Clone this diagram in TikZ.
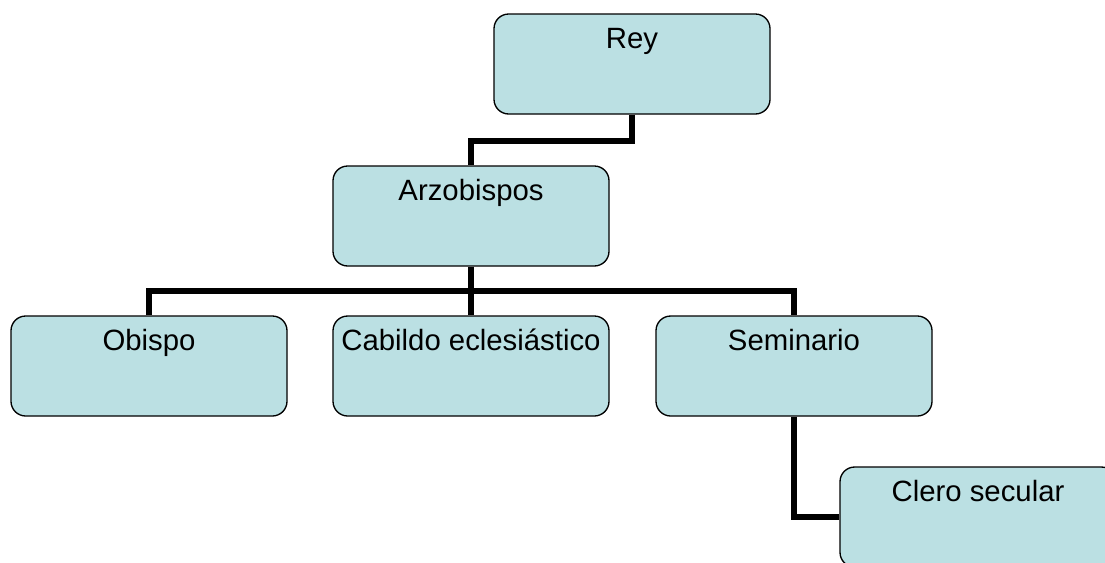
\documentclass[tikz,border=0pt]{standalone}
\usepackage{fontspec}
\setmainfont{Liberation Sans}
\usepackage{tikz}
\definecolor{boxfill}{RGB}{187,224,227}

\begin{document}
\begin{tikzpicture}[x=0.75pt, y=-0.75pt,
  orgbox/.style={draw, line width=1pt, fill=boxfill, rounded corners=11pt,
    minimum width=207pt, inner sep=0pt, text height=25.5pt, text depth=49.5pt,
    font=\fontsize{22}{26}\selectfont},
  link/.style={line width=4.5pt, line join=miter}]

\useasboundingbox (0,0) rectangle (1105,562);
\clip (0,0) rectangle (1105,562);

\node[orgbox] (rey) at (632,64) {Rey};
\node[orgbox] (arz) at (471,216) {Arzobispos};

\node[orgbox] (obi) at (149,366) {Obispo};
\node[orgbox] (cab) at (471,366) {Cabildo eclesiástico};
\node[orgbox] (sem) at (794,366) {Seminario};

\node[orgbox] (cle) at (978,517) {Clero secular};

\draw[link] (rey.south) -- ++(0,26) -| (arz.north);
\draw[link] (arz.south) -- (cab.north);
\draw[link] (obi.north) -- ++(0,-24) -| (sem.north);
\draw[link] (sem.south) |- (cle.west);
\end{tikzpicture}
\end{document}
